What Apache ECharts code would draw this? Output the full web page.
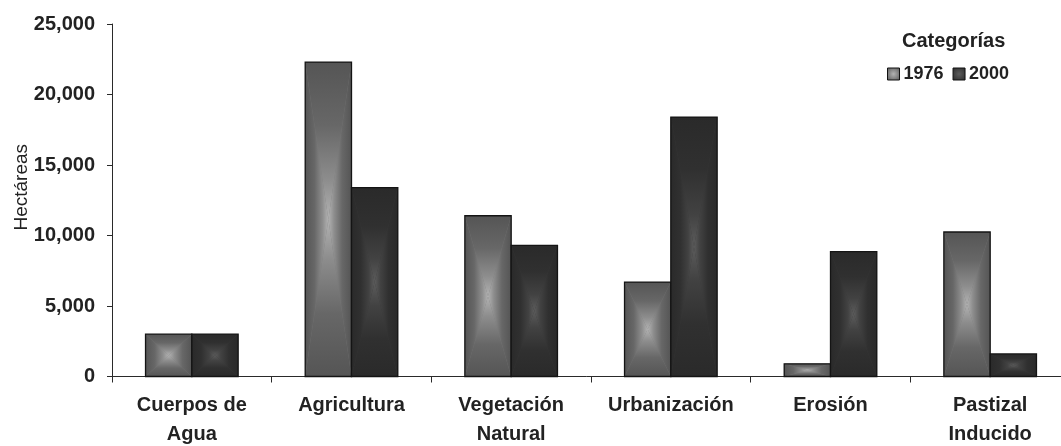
<!DOCTYPE html>
<html>
<head>
<meta charset="utf-8">
<script src="https://cdn.jsdelivr.net/npm/echarts@6/dist/echarts.min.js"></script>
<style>
  html, body { margin: 0; padding: 0; background: #ffffff; }
  #chart { width: 1061px; height: 446px; }
</style>
</head>
<body>
<div id="chart"></div>
<script>
// Land-use categories and surface (hectares) for the two survey years
const categories = ['Cuerpos de\nAgua', 'Agricultura', 'Vegetación\nNatural', 'Urbanización', 'Erosión', 'Pastizal\nInducido'];
const seriesNames = ['1976', '2000'];
const values1976 = [3000, 22300, 11400, 6700, 900, 10250];
const values2000 = [3000, 13400, 9300, 18400, 8850, 1600];
const yTickValues = [0, 5000, 10000, 15000, 20000, 25000];
const yTickLabels = ['0', '5,000', '10,000', '15,000', '20,000', '25,000'];

const FONT = "'Liberation Sans', Arial, Helvetica, sans-serif";
const BAR_FRACTION = 0.29; // width of one bar relative to its category band

// Shading ramps from the outer edge of a bar towards its centre
const palettes = [
  { stops: ['#555555', '#676767', '#8d8d8d', '#b2b2b2'], base: '#777777' },
  { stops: ['#2a2a2a', '#303030', '#424242', '#5c5c5c'], base: '#363636' }
];
const STOP_OFFSETS = [0, 0.4, 0.75, 1];

function ramp(pal, x1, y1, x2, y2) {
  return new echarts.graphic.LinearGradient(x1, y1, x2, y2,
    pal.stops.map(function (c, i) { return { offset: STOP_OFFSETS[i], color: c }; }));
}

// Each bar is split into four triangles meeting at its centre, each shaded from
// its outer edge towards the middle, which gives rectangular shading contours.
function makeRenderer(slot, pal) {
  return function (params, api) {
    const c = api.value(0);
    const v = api.value(1);
    const p0 = api.coord([c, 0]);
    const p1 = api.coord([c, v]);
    const band = api.size([1, 0])[0];
    const w = band * BAR_FRACTION;
    const x = slot === 0 ? p0[0] - w : p0[0];
    const y = p1[1];
    const h = p0[1] - p1[1];
    const cx = x + w / 2;
    const cy = y + h / 2;
    return {
      type: 'group',
      children: [
        { type: 'rect', shape: { x: x, y: y, width: w, height: h }, style: { fill: pal.base } },
        { type: 'polygon', shape: { points: [[x, y], [x + w, y], [cx, cy]] }, style: { fill: ramp(pal, 0, 0, 0, 1) } },
        { type: 'polygon', shape: { points: [[x, y + h], [x + w, y + h], [cx, cy]] }, style: { fill: ramp(pal, 0, 1, 0, 0) } },
        { type: 'polygon', shape: { points: [[x, y], [x, y + h], [cx, cy]] }, style: { fill: ramp(pal, 0, 0, 1, 0) } },
        { type: 'polygon', shape: { points: [[x + w, y], [x + w, y + h], [cx, cy]] }, style: { fill: ramp(pal, 1, 0, 0, 0) } },
        { type: 'rect', shape: { x: x, y: y, width: w, height: h }, style: { fill: 'none', stroke: '#141414', lineWidth: 1.3 } }
      ]
    };
  };
}

function iconFill(pal) {
  return new echarts.graphic.RadialGradient(0.5, 0.5, 0.7, [
    { offset: 0, color: pal.stops[3] },
    { offset: 1, color: pal.stops[0] }
  ]);
}

const chart = echarts.init(document.getElementById('chart'));

chart.setOption({
  animation: false,
  backgroundColor: '#ffffff',
  textStyle: { fontFamily: FONT },
  title: {
    text: 'Categorías',
    left: 897,
    top: 26,
    textStyle: { fontFamily: FONT, fontSize: 20, fontWeight: 'bold', color: '#222222' }
  },
  legend: {
    left: 882,
    top: 60,
    itemWidth: 12,
    itemHeight: 12,
    itemGap: 9,
    selectedMode: false,
    textStyle: { fontFamily: FONT, fontSize: 18, fontWeight: 'bold', color: '#222222', padding: [0, 0, 0, -1] },
    data: seriesNames.map(function (n, i) {
      return {
        name: n,
        icon: 'rect',
        itemStyle: { color: iconFill(palettes[i]), borderColor: '#111111', borderWidth: 1 }
      };
    })
  },
  grid: { left: 112, top: 24, width: 958, height: 352.5, containLabel: false, outerBoundsMode: 'none' },
  xAxis: {
    type: 'category',
    data: categories,
    axisLine: { lineStyle: { color: '#2a2a2a', width: 1 } },
    axisTick: { show: true, length: 6, lineStyle: { color: '#2a2a2a' } },
    axisLabel: {
      interval: 0,
      margin: 14,
      fontFamily: FONT,
      fontSize: 20,
      fontWeight: 'bold',
      lineHeight: 29,
      color: '#222222'
    }
  },
  yAxis: {
    type: 'value',
    min: 0,
    max: 25000,
    interval: 5000,
    name: 'Hectáreas',
    nameLocation: 'middle',
    nameGap: 81,
    nameRotate: 90,
    nameMoveOverlap: false,
    nameTextStyle: { fontFamily: FONT, fontSize: 19, color: '#222222', padding: [0, 0, 0, 26] },
    axisLine: { show: true, lineStyle: { color: '#2a2a2a', width: 1 } },
    axisTick: { show: true, length: 5, lineStyle: { color: '#2a2a2a' } },
    splitLine: { show: false },
    axisLabel: {
      margin: 17,
      fontFamily: FONT,
      fontSize: 20,
      fontWeight: 'bold',
      color: '#222222',
      formatter: function (val) {
        const i = yTickValues.indexOf(val);
        return i >= 0 ? yTickLabels[i] : '';
      }
    }
  },
  series: [
    {
      type: 'custom',
      name: seriesNames[0],
      renderItem: makeRenderer(0, palettes[0]),
      itemStyle: { color: palettes[0].base },
      encode: { x: 0, y: 1 },
      data: values1976.map(function (v, i) { return [i, v]; })
    },
    {
      type: 'custom',
      name: seriesNames[1],
      renderItem: makeRenderer(1, palettes[1]),
      itemStyle: { color: palettes[1].base },
      encode: { x: 0, y: 1 },
      data: values2000.map(function (v, i) { return [i, v]; })
    }
  ]
});
</script>
</body>
</html>
